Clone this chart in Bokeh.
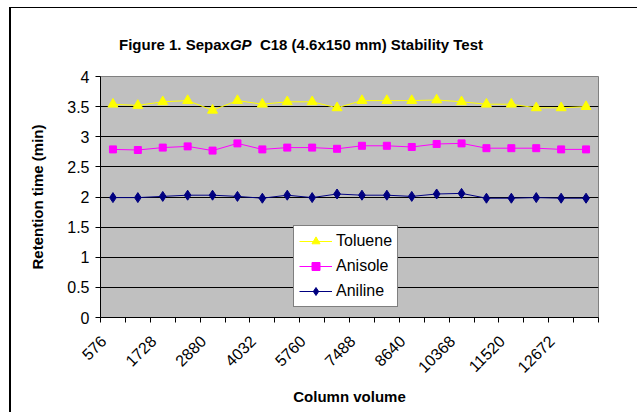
import math
import numpy as np
from bokeh.plotting import figure
from bokeh.layouts import column
from bokeh.models import FixedTicker, Range1d, Legend, LegendItem, Div
from bokeh.embed import file_html
from bokeh.resources import INLINE

# ---- data ----
column_volume = [576, 1152, 1728, 2304, 2880, 3456, 4032, 4896, 5760, 6624,
                 7488, 8064, 8640, 9504, 10368, 10944, 11520, 12096, 12672, 13248]
toluene = [3.54, 3.52, 3.58, 3.60, 3.44, 3.60, 3.54, 3.58, 3.58, 3.48,
           3.60, 3.60, 3.60, 3.61, 3.58, 3.54, 3.54, 3.48, 3.48, 3.50]
anisole = [2.79, 2.78, 2.82, 2.84, 2.77, 2.89, 2.79, 2.82, 2.82, 2.80,
           2.85, 2.85, 2.83, 2.88, 2.89, 2.81, 2.81, 2.81, 2.79, 2.79]
aniline = [1.99, 1.99, 2.01, 2.03, 2.03, 2.01, 1.98, 2.03, 1.99, 2.05,
           2.03, 2.03, 2.01, 2.05, 2.06, 1.98, 1.98, 1.99, 1.98, 1.98]
y_ticks = [0, 0.5, 1, 1.5, 2, 2.5, 3, 3.5, 4]
label_step = 2

FONT = "Liberation Sans"

n = len(column_volume)
xpos = np.arange(n) + 0.5

title = Div(
    text=('<div style="font: bold 15px \'Liberation Sans\', Arial, sans-serif; color: black; '
          'position: relative; left: 108px; top: 28px; white-space: nowrap; line-height: 18px;">'
          'Figure 1. Sepax<i>GP</i>&nbsp; C18 (4.6x150 mm) Stability Test</div>'),
    width=626, height=58, margin=0)

p = figure(width=626, height=346, frame_width=498, frame_height=241,
           min_border_left=89, min_border_right=39, min_border_top=10, min_border_bottom=95,
           x_range=Range1d(0, n), y_range=Range1d(0, 4),
           output_backend="svg", toolbar_location=None,
           background_fill_color="#C0C0C0", border_fill_color="white",
           outline_line_color="#808080", outline_line_width=1, margin=0)

# grid
p.xgrid.visible = False
p.ygrid.ticker = FixedTicker(ticks=y_ticks)
p.ygrid.grid_line_color = "black"
p.ygrid.grid_line_width = 1

# y axis
ya = p.yaxis[0]
ya.ticker = FixedTicker(ticks=y_ticks, minor_ticks=[])
ya.major_label_overrides = {t: f"{t:g}" for t in y_ticks}
ya.axis_line_color = "black"
ya.major_tick_line_color = "black"
ya.major_tick_out = 5
ya.major_tick_in = 0
ya.major_label_standoff = 6
ya.major_label_text_font = FONT
ya.major_label_text_font_size = "16px"
ya.major_label_text_color = "black"
ya.axis_label = "Retention time (min)"
ya.axis_label_text_font = FONT
ya.axis_label_text_font_size = "15px"
ya.axis_label_text_font_style = "bold"
ya.axis_label_text_color = "black"
ya.axis_label_standoff = 18

# x axis: labels every other category; the rotated labels are left-padded to equal
# length with no-break spaces so that their right ends line up like Excel's.
xa = p.xaxis[0]
label_shift = -0.37   # data units, places the rotated label's end just left of the category
label_idx = list(range(0, n, label_step))
maxlen = max(len(str(column_volume[i])) for i in label_idx)
major = [float(xpos[i]) + label_shift for i in label_idx]
xa.ticker = FixedTicker(ticks=major, minor_ticks=list(range(n + 1)))
xa.major_label_overrides = {
    float(xpos[i]) + label_shift:
        "\u00a0\u00a0" * (maxlen - len(str(column_volume[i]))) + str(column_volume[i])
    for i in label_idx}
xa.major_label_orientation = math.pi / 4
xa.major_tick_line_color = None
xa.major_tick_out = 5
xa.major_tick_in = 0
xa.minor_tick_line_color = "black"
xa.minor_tick_out = 5
xa.minor_tick_in = 0
xa.axis_line_color = "black"
xa.major_label_standoff = 16
xa.major_label_text_font = FONT
xa.major_label_text_font_size = "16px"
xa.major_label_text_color = "black"
xa.axis_label = "Column volume"
xa.axis_label_text_font = FONT
xa.axis_label_text_font_size = "15px"
xa.axis_label_text_font_style = "bold"
xa.axis_label_text_color = "black"
xa.axis_label_standoff = 3

# series
series = [
    ("Toluene", toluene, "#FFFF00", "triangle", 10),
    ("Anisole", anisole, "#FF00FF", "square", 7),
    ("Aniline", aniline, "#000080", "diamond", 10),
]
items = []
for name, vals, col, mk, sz in series:
    l = p.line(xpos, vals, line_color=col, line_width=1)
    s = p.scatter(xpos, vals, marker=mk, size=sz, fill_color=col, line_color=col)
    items.append(LegendItem(label=name, renderers=[l, s]))

legend = Legend(items=items, location=(193, 10),
                background_fill_color="white", background_fill_alpha=1,
                border_line_color="black", border_line_width=1,
                label_text_font=FONT, label_text_font_size="16px", label_text_color="black",
                glyph_width=33, glyph_height=20, label_height=20, label_standoff=4,
                padding=5, spacing=5, margin=0)
p.add_layout(legend)

layout = column(title, p, spacing=0)
layout.styles = {"margin-left": "9px", "margin-top": "7px",
                 "border-top": "1px solid black", "border-left": "2px solid black"}

open("out.html", "w").write(file_html(layout, INLINE))
